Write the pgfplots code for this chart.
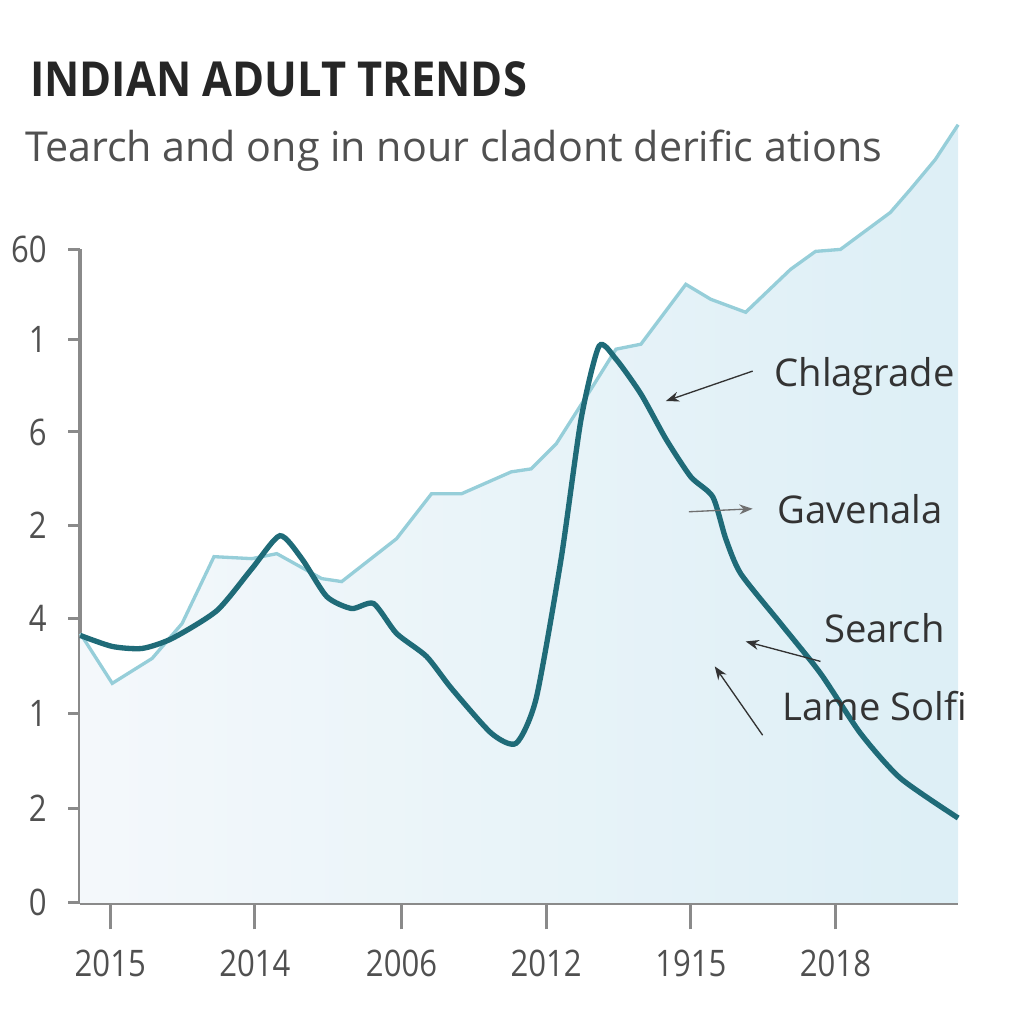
\documentclass[border=0pt]{standalone}
\usepackage{pgfplots}
\pgfplotsset{compat=1.18}
\usepackage{fontspec}
\setmainfont{Open Sans}
\newfontfamily\titlefont[FakeStretch=0.9]{Open Sans}
\newfontfamily\tickfont[FakeStretch=0.85]{Open Sans}
\usetikzlibrary{arrows.meta}
\definecolor{lightline}{HTML}{96CED9}
\definecolor{darkline}{HTML}{1F6B78}
\definecolor{axisgray}{HTML}{8A8A8A}
\definecolor{ticktext}{HTML}{505050}
\definecolor{annot}{HTML}{333333}
\definecolor{fillL}{HTML}{F4F8FB}
\definecolor{fillR}{HTML}{DDEFF6}
\begin{document}
\begin{tikzpicture}
\begin{axis}[
  scale only axis, width=264pt, height=196.5pt,
  xmin=78, xmax=958, ymin=0, ymax=655,
  clip=false,
  axis lines=left,
  axis line style={-, axisgray, line width=1.2pt},
  xtick={108,253,400,545,690,835},
  xticklabels={2015,2014,2006,2012,1915,2018},
  ytick={0,95,190,285,378,472,565,655},
  yticklabels={0,2,1,4,2,6,1,60},
  tick align=outside,
  major tick length=3.6pt,
  xtick style={axisgray, line width=0.9pt, /pgfplots/major tick length=8pt},
  ytick style={axisgray, line width=0.9pt},
  /pgf/number format/assume math mode=true,
  xticklabel style={font=\tickfont\fontsize{11}{12}\selectfont, text=ticktext, yshift=-7pt},
  yticklabel style={font=\tickfont\fontsize{11}{12}\selectfont, text=ticktext, xshift=-3pt},
]
% shaded area under the light series
\addplot[draw=none, left color=fillL, right color=fillR] coordinates {
(78,270)(110,220)(150,245)(180,280)(212,347)(250,345)(275,350)(320,325)(340,322)(395,365)(430,410)(460,410)(510,432)(530,435)(555,460)(590,515)(615,555)(640,560)(685,620)(710,605)(745,592)(790,635)(815,653)(840,655)(890,692)(910,715)(935,745)(958,780)
} \closedcycle;
% light series
\addplot[lightline, line width=1pt] coordinates {
(78,270)(110,220)(150,245)(180,280)(212,347)(250,345)(275,350)(320,325)(340,322)(395,365)(430,410)(460,410)(510,432)(530,435)(555,460)(590,515)(615,555)(640,560)(685,620)(710,605)(745,592)(790,635)(815,653)(840,655)(890,692)(910,715)(935,745)(958,780)
};
% dark series
\addplot[darkline, line width=1.6pt, smooth, tension=0.4] coordinates {
(78,268)(110,257)(140,255)(170,265)(215,293)(250,335)(278,368)(300,345)(325,307)(350,295)(372,300)(395,270)(425,247)(450,215)(490,170)(515,160)(535,205)(560,345)(580,485)(598,558)(615,545)(640,510)(665,465)(690,427)(712,407)(725,365)(740,330)(780,280)(820,230)(860,170)(900,125)(958,85)
};
% annotations
\node[anchor=west, font=\fontsize{11.5}{13}\selectfont, text=annot] at (axis cs:762,528) {Chlagrade};
\node[anchor=west, font=\fontsize{11.5}{13}\selectfont, text=annot] at (axis cs:765,395) {Gavenala};
\node[anchor=west, font=\fontsize{11.5}{13}\selectfont, text=annot] at (axis cs:812,275) {Search};
\node[anchor=west, font=\fontsize{11.5}{13}\selectfont, text=annot] at (axis cs:770,197) {Lame Solfi};
\draw[-{Stealth[length=4pt]}, annot, line width=0.4pt] (axis cs:752,533) -- (axis cs:665,503);
\draw[-{Stealth[length=4pt]}, annot!70, line width=0.4pt] (axis cs:688,392) -- (axis cs:752,395);
\draw[-{Stealth[length=4pt]}, annot, line width=0.4pt] (axis cs:820,242) -- (axis cs:745,262);
\draw[-{Stealth[length=4pt]}, annot, line width=0.4pt] (axis cs:762,168) -- (axis cs:714,237);
% titles
\node[anchor=base west, inner sep=0pt, font=\titlefont\bfseries\fontsize{14.5}{16}\selectfont, text=black!85] at (axis cs:27,808) {INDIAN ADULT TRENDS};
\node[anchor=base west, inner sep=0pt, font=\fontsize{12.4}{14}\selectfont, text=ticktext] at (axis cs:22,743) {Tearch and ong in nour cladont derific ations};
% page frame
\path (axis cs:0,905) rectangle (axis cs:1024,-119);
\end{axis}
\end{tikzpicture}
\end{document}
